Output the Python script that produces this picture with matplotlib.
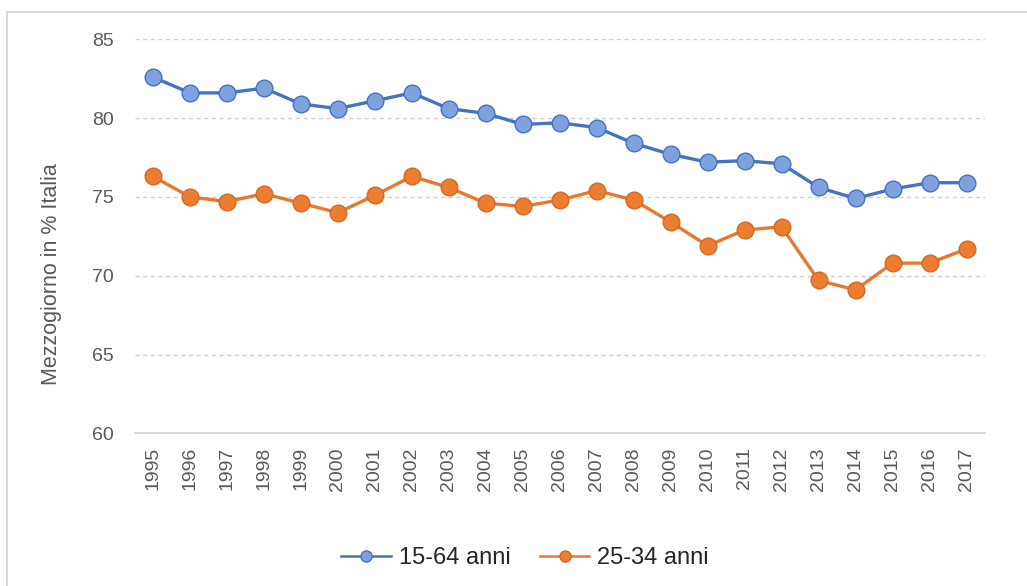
import matplotlib
matplotlib.use("Agg")
import matplotlib.pyplot as plt
from matplotlib.lines import Line2D

years = [str(y) for y in range(1995, 2018)]
age_15_64 = [82.6, 81.6, 81.6, 81.9, 80.9, 80.6, 81.1, 81.6, 80.6, 80.3,
             79.6, 79.7, 79.4, 78.4, 77.7, 77.2, 77.3, 77.1, 75.6, 74.9,
             75.5, 75.9, 75.9]
age_25_34 = [76.3, 75.0, 74.7, 75.2, 74.6, 74.0, 75.1, 76.3, 75.6, 74.6,
             74.4, 74.8, 75.4, 74.8, 73.4, 71.9, 72.9, 73.1, 69.7, 69.1,
             70.8, 70.8, 71.7]
series_labels = ["15-64 anni", "25-34 anni"]
y_ticks = [60, 65, 70, 75, 80, 85]
y_label = "Mezzogiorno in % Italia"

plt.rcParams["font.family"] = ["Liberation Sans", "DejaVu Sans"]

W, H = 1027, 586
fig = plt.figure(figsize=(W / 100, H / 100), dpi=100)
fig.patch.set_facecolor("white")

ax = fig.add_axes([134.5 / W, (H - 433.3) / H, (985 - 134.5) / W, (433.3 - 39.3) / H])

blue_line, blue_face = "#4472C4", "#7FA1DE"
orange_line, orange_face = "#E8782F", "#ED7D31"

x = list(range(len(years)))
ax.plot(x, age_15_64, color=blue_line, lw=2.4, marker="o", ms=12,
        mfc=blue_face, mec=blue_line, mew=1.0, zorder=3)
ax.plot(x, age_25_34, color=orange_line, lw=2.4, marker="o", ms=12,
        mfc=orange_face, mec="#D4691F", mew=1.0, zorder=3)

ax.set_xlim(-0.5, len(years) - 0.5)
ax.set_ylim(60, 85)
ax.set_yticks(y_ticks)
ax.set_xticks(x)
ax.set_xticklabels(years, rotation=90)
ax.tick_params(axis="both", length=0, labelsize=14, colors="#595959")
ax.tick_params(axis="y", pad=15)
ax.tick_params(axis="x", pad=10)

for s in ["top", "right", "left"]:
    ax.spines[s].set_visible(False)
ax.spines["bottom"].set_color("#D9D9D9")
ax.spines["bottom"].set_linewidth(1.5)

ax.yaxis.grid(True, color="#D0D0D0", linestyle=(0, (3, 2.5)), linewidth=1.0)
ax.set_axisbelow(True)

fig.text(52 / W, 1 - 274 / H, y_label, rotation=90, ha="center", va="center",
         fontsize=15.5, color="#595959")

handles = [
    Line2D([], [], color=blue_line, lw=1.8, marker="o", ms=8,
           mfc=blue_face, mec=blue_line),
    Line2D([], [], color=orange_line, lw=1.8, marker="o", ms=8,
           mfc=orange_face, mec="#D4691F"),
]
fig.legend(handles, series_labels, loc="center", bbox_to_anchor=(525 / W, 1 - 558 / H),
           ncol=2, frameon=False, fontsize=17, handlelength=2.1, handletextpad=0.34,
           columnspacing=1.25, labelcolor="#262626")

# outer frame (top and left edges)
fig.add_artist(Line2D([7 / W, 1.0], [1 - 12 / H, 1 - 12 / H], color="#D9D9D9", lw=1.5,
                      transform=fig.transFigure))
fig.add_artist(Line2D([7 / W, 7 / W], [0.0, 1 - 12 / H], color="#D9D9D9", lw=1.5,
                      transform=fig.transFigure))

fig.savefig("out.png", dpi=100)
